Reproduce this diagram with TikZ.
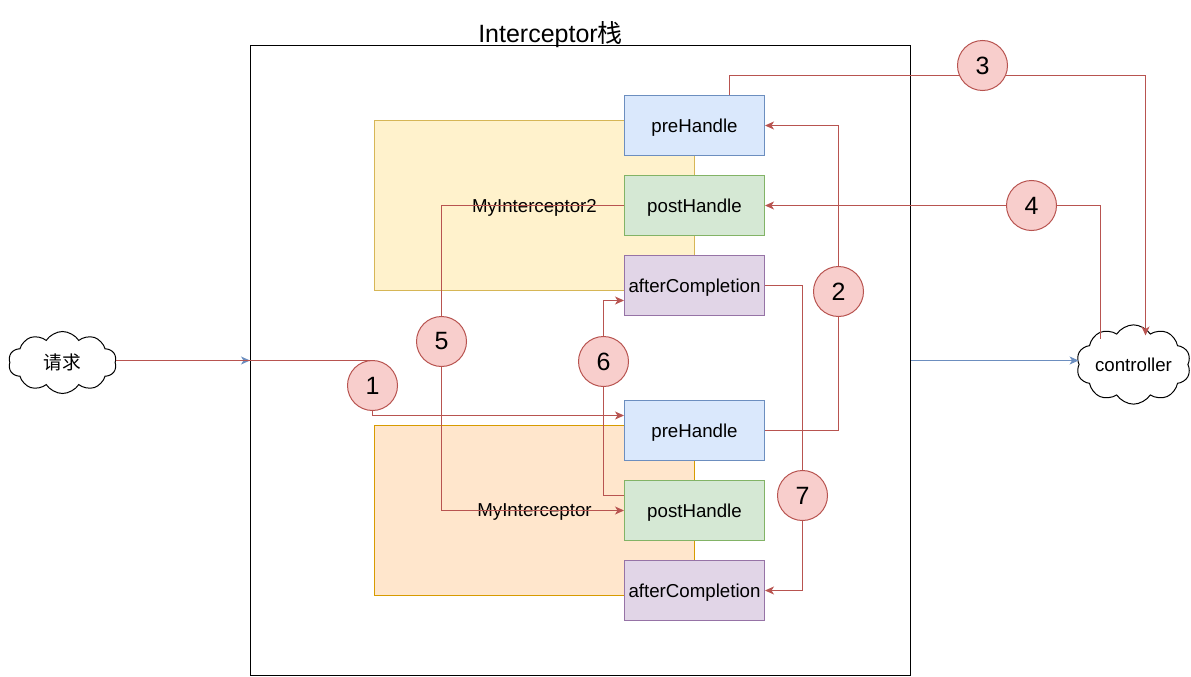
\documentclass[tikz,border=0pt]{standalone}
\usepackage{fontspec}
\setmainfont{Liberation Sans}
\newfontfamily\cjk{Noto Sans CJK SC}
\usetikzlibrary{arrows.meta,shapes.symbols,calc}

\definecolor{redD}{HTML}{B85450}
\definecolor{redF}{HTML}{F8CECC}
\definecolor{blueD}{HTML}{6C8EBF}
\definecolor{blueF}{HTML}{DAE8FC}
\definecolor{greenD}{HTML}{82B366}
\definecolor{greenF}{HTML}{D5E8D4}
\definecolor{purpleD}{HTML}{9673A6}
\definecolor{purpleF}{HTML}{E1D5E7}
\definecolor{yellowD}{HTML}{D6B656}
\definecolor{yellowF}{HTML}{FFF2CC}
\definecolor{orangeD}{HTML}{D79B00}
\definecolor{orangeF}{HTML}{FFE6CC}

\tikzset{
  lbl/.style={font=\fontsize{18.7}{22}\selectfont},
  method/.style={lbl, draw, line width=1pt, minimum width=140pt, minimum height=60pt, inner sep=0pt, text depth=0pt},
  prebox/.style={method, fill=blueF, draw=blueD},
  postbox/.style={method, fill=greenF, draw=greenD},
  afterbox/.style={method, fill=purpleF, draw=purpleD},
  group/.style={lbl, line width=1pt, minimum width=320pt, minimum height=170pt, inner sep=0pt, text depth=0pt},
  stepnum/.style={circle, draw=redD, fill=redF, line width=1pt, minimum size=50pt, inner sep=0pt,
    font=\fontsize{25}{30}\selectfont},
  bubble/.style={lbl, cloud, draw, line width=1pt, cloud puffs=10, cloud puff arc=115, aspect=1.7,
    minimum width=108pt, minimum height=62pt, inner sep=0pt},
  tip/.style={-{Stealth[length=9pt,width=8pt,inset=2.5pt]}},
  flow/.style={draw=redD, line width=1pt},
  flowarrow/.style={flow, tip},
  bluearrow/.style={draw=blueD, line width=1pt, tip},
}

\begin{document}
\begin{tikzpicture}[x=1pt,y=-1pt]
\useasboundingbox (0,0) rectangle (1191,677);

% half-unit shift keeps the 1pt strokes on whole pixel rows
\begin{scope}[shift={(0.5,0.5)}]

% interceptor stack frame and title
\node[draw, line width=1pt, minimum width=660pt, minimum height=630pt, inner sep=0pt] (stack) at (580,360) {};
\node[font=\fontsize{25}{30}\selectfont, anchor=base] (title) at (550,42) {Interceptor{\cjk 栈}};

% interceptor groups
\node[group, fill=yellowF, draw=yellowD] (g2) at (534,205) {MyInterceptor2};
\node[group, fill=orangeF, draw=orangeD] (g1) at (534,510) {MyInterceptor};

% handler methods
\node[prebox]   (pre2)   at (694,125) {preHandle};
\node[postbox]  (post2)  at (694,205) {postHandle};
\node[afterbox] (after2) at (694,285) {afterCompletion};
\node[prebox]   (pre1)   at (694,430) {preHandle};
\node[postbox]  (post1)  at (694,510) {postHandle};
\node[afterbox] (after1) at (694,590) {afterCompletion};

% request and controller
\node[bubble] (req)  at (62,362)   {\cjk 请求};
\node[bubble] (ctrl) at (1133,364) {controller};
\coordinate (ctrlin)  at (1145,335);
\coordinate (ctrlout) at (1100,338);
\coordinate (stackin) at ($(stack.west)+(-12,0)$);

% entry and exit of the stack
\draw[bluearrow] (stackin) -- (stack.west);
\draw[bluearrow] (stack.east) -- (ctrl.west |- stack.east);

% step markers
\node[stepnum] (c1) at (372,385) {1};
\node[stepnum] (c2) at (838,291) {2};
\node[stepnum] (c3) at (982,65)  {3};
\node[stepnum] (c4) at (1031,205) {4};
\node[stepnum] (c5) at (441,341) {5};
\node[stepnum] (c6) at (603,361) {6};
\node[stepnum] (c7) at (802,495) {7};

% step 1
\draw[flow] (req.east |- c1.north) -- (c1.north);
\draw[flowarrow] (c1.south) |- ($(pre1.west)+(0,-15)$);
% step 2
\draw[flow] (pre1.east) -| (c2.south);
\draw[flowarrow] (c2.north) |- (pre2.east);
% step 3
\draw[flow] ($(pre2.north)+(35,0)$) |- (c3.204);
\draw[flowarrow] (c3.336) -| (ctrlin);
% step 4
\draw[flow] (ctrlout) |- (c4.east);
\draw[flowarrow] (c4.west) -- (post2.east);
% step 5
\draw[flow] (post2.west) -| (c5.north);
\draw[flowarrow] (c5.south) |- (post1.west);
% step 6
\draw[flow] ($(post1.west)+(0,-15)$) -| (c6.south);
\draw[flowarrow] (c6.north) |- ($(after2.west)+(0,15)$);
% step 7
\draw[flow] (after2.east) -| (c7.north);
\draw[flowarrow] (c7.south) |- (after1.east);
\end{scope}
\end{tikzpicture}
\end{document}
